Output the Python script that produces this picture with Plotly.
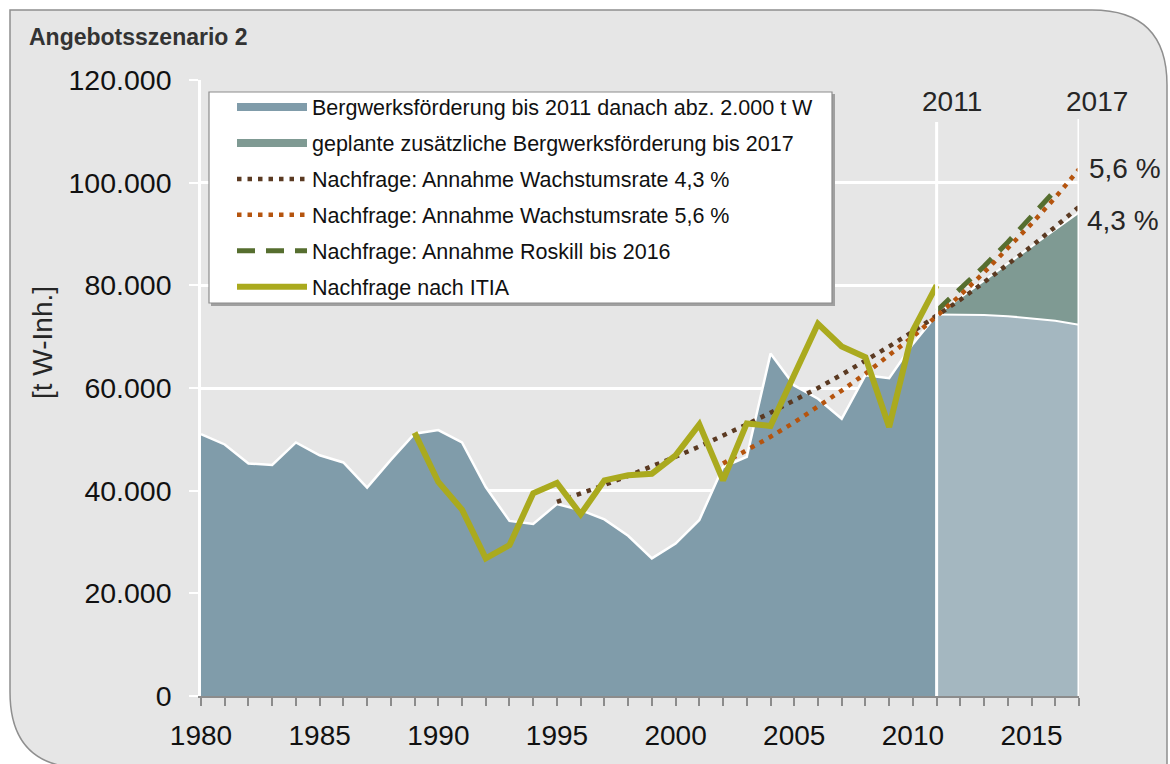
import plotly.graph_objects as go

# ---------------- data ----------------
years_hist = list(range(1980, 2012))
mine_hist = [51000, 49000, 45300, 45000, 49400, 46900, 45500, 40600, 46000, 51100,
             51800, 49400, 40700, 34100, 33500, 37400, 36200, 34400, 31200, 26800,
             29700, 34300, 44600, 46600, 66700, 60500, 57900, 54000, 62500, 61900,
             68600, 74300]

years_fut = list(range(2011, 2018))
mine_fut_base = [74300, 74300, 74200, 74000, 73600, 73100, 72300]
mine_fut_add = [0, 3300, 6700, 10200, 14000, 17800, 21900]

years_g43 = list(range(1995, 2018))
demand_43 = [37800, 39400, 41100, 42900, 44700, 46600, 48600, 50700, 52900, 55200,
             57500, 60000, 62600, 65300, 68100, 71000, 74000, 77200, 80600, 84000,
             87600, 91400, 95300]

years_g56 = list(range(2002, 2018))
demand_56 = [45300, 47800, 50500, 53300, 56300, 59500, 62800, 66300, 70000, 74000,
             78100, 82500, 87100, 92000, 97100, 102600]

years_roskill = list(range(2011, 2017))
demand_roskill = [75000, 79300, 83700, 88400, 93300, 98500]

years_itia = list(range(1989, 2012))
demand_itia = [51300, 41700, 36300, 26800, 29400, 39500, 41500, 35400, 42000, 43000,
               43300, 46900, 52900, 42000, 53100, 52600, 62600, 72500, 68100, 66000,
               52400, 71200, 80000]

legend_names = ["Bergwerksförderung bis 2011 danach abz. 2.000 t W",
                "geplante zusätzliche Bergwerksförderung bis 2017",
                "Nachfrage: Annahme Wachstumsrate 4,3 %",
                "Nachfrage: Annahme Wachstumsrate 5,6 %",
                "Nachfrage: Annahme Roskill bis 2016",
                "Nachfrage nach ITIA"]

# ---------------- layout geometry ----------------
W, H = 1170, 764
ML, MR, MT, MB = 201, 91, 80, 68
PW, PH = W - ML - MR, H - MT - MB


def px(x):
    return (x - ML) / PW


def py(y):
    return (H - MB - y) / PH


C_MINE = "#809caa"
C_MINE_FUT = "#a4b7c0"
C_ADD = "#7f9a93"
C_43 = "#5b3a22"
C_56 = "#b5540e"
C_ROS = "#566e2f"
C_ITIA = "#aaaa1e"
FONT = "Liberation Sans, Arial, sans-serif"

fig = go.Figure()

# areas
fig.add_trace(go.Scatter(x=years_hist, y=mine_hist, mode="lines", fill="tozeroy",
                         fillcolor=C_MINE, line=dict(color="white", width=2.5),
                         showlegend=False, hoverinfo="skip"))
fig.add_trace(go.Scatter(x=years_fut, y=mine_fut_base, mode="lines", stackgroup="fut",
                         fillcolor=C_MINE_FUT, line=dict(color="white", width=2),
                         showlegend=False, hoverinfo="skip"))
fig.add_trace(go.Scatter(x=years_fut, y=mine_fut_add, mode="lines", stackgroup="fut",
                         fillcolor=C_ADD, line=dict(color="white", width=2),
                         showlegend=False, hoverinfo="skip"))

# demand lines
fig.add_trace(go.Scatter(x=years_roskill, y=demand_roskill, mode="lines",
                         line=dict(color=C_ROS, width=5, dash="18px,11px"),
                         name=legend_names[4], legendgroup="g5", legendrank=5))
fig.add_trace(go.Scatter(x=years_g43, y=demand_43, mode="lines",
                         line=dict(color=C_43, width=4.5, dash="4.5px,6px"),
                         name=legend_names[2], legendgroup="g3", legendrank=3))
fig.add_trace(go.Scatter(x=years_g56, y=demand_56, mode="lines",
                         line=dict(color=C_56, width=4.5, dash="4.5px,6px"),
                         name=legend_names[3], legendgroup="g4", legendrank=4))
fig.add_trace(go.Scatter(x=years_itia, y=demand_itia, mode="lines",
                         line=dict(color=C_ITIA, width=6),
                         name=legend_names[5], legendgroup="g6", legendrank=6))

# legend entries for the areas
fig.add_trace(go.Scatter(x=[None], y=[None], mode="lines",
                         line=dict(color=C_MINE, width=8),
                         name=legend_names[0], legendgroup="g1", legendrank=1))
fig.add_trace(go.Scatter(x=[None], y=[None], mode="lines",
                         line=dict(color=C_ADD, width=8),
                         name=legend_names[1], legendgroup="g2", legendrank=2))

shapes = []
# background panel with rounded corners
path = (f"M {px(10)},{py(10)} L {px(1092)},{py(10)} "
        f"Q {px(1167)},{py(10)} {px(1167)},{py(85)} "
        f"L {px(1167)},{py(768)} L {px(85)},{py(768)} "
        f"Q {px(10)},{py(768)} {px(10)},{py(692)} Z")
shapes.append(dict(type="path", path=path, xref="paper", yref="paper",
                   fillcolor="#e6e6e6", line=dict(color="#8f8f8f", width=1.5),
                   layer="below"))
# vertical markers at 2011 and 2017
for yr, top in [(2011, 122), (2017, 119)]:
    shapes.append(dict(type="line", xref="x", yref="paper", x0=yr, x1=yr,
                       y0=0, y1=py(top), line=dict(color="white", width=3),
                       layer="above"))
# legend box with shadow
shapes.append(dict(type="rect", xref="paper", yref="paper",
                   x0=px(211), x1=px(835), y0=py(94), y1=py(306),
                   fillcolor="#a0a0a0", line=dict(width=0), layer="above"))
shapes.append(dict(type="rect", xref="paper", yref="paper",
                   x0=px(209), x1=px(832), y0=py(92), y1=py(303),
                   fillcolor="white", line=dict(color="#8c8c8c", width=1.2),
                   layer="above"))

annotations = [
    dict(text="<b>Angebotsszenario 2</b>", x=px(27), y=py(37), xref="paper", yref="paper",
         xanchor="left", yanchor="middle", showarrow=False,
         font=dict(size=23, color="#333333", family=FONT)),
    dict(text="[t W-Inh.]", x=px(42), y=py(343), xref="paper", yref="paper",
         xanchor="center", yanchor="middle", textangle=-90, showarrow=False,
         font=dict(size=28, color="#262626", family=FONT)),
    dict(text="2011", x=px(952), y=py(102), xref="paper", yref="paper",
         xanchor="center", yanchor="middle", showarrow=False,
         font=dict(size=28, color="#262626", family=FONT)),
    dict(text="2017", x=px(1097), y=py(102), xref="paper", yref="paper",
         xanchor="center", yanchor="middle", showarrow=False,
         font=dict(size=28, color="#262626", family=FONT)),
    dict(text="5,6 %", x=px(1087), y=py(168), xref="paper", yref="paper",
         xanchor="left", yanchor="middle", showarrow=False,
         font=dict(size=28, color="#262626", family=FONT)),
    dict(text="4,3 %", x=px(1085), y=py(220), xref="paper", yref="paper",
         xanchor="left", yanchor="middle", showarrow=False,
         font=dict(size=28, color="#262626", family=FONT)),
]

fig.update_layout(
    width=W, height=H,
    margin=dict(l=ML, r=MR, t=MT, b=MB, autoexpand=False),
    paper_bgcolor="white", plot_bgcolor="rgba(0,0,0,0)",
    separators=",.",
    font=dict(family=FONT, color="#111111"),
    shapes=shapes, annotations=annotations,
    legend=dict(x=px(232), y=py(86.5), xanchor="left", yanchor="top",
                bgcolor="rgba(0,0,0,0)", borderwidth=0,
                font=dict(size=21.5, color="#111111", family=FONT),
                itemwidth=70, traceorder="grouped", tracegroupgap=5),
    xaxis=dict(range=[1980, 2017], tickmode="linear", tick0=1980, dtick=5,
               showgrid=False, zeroline=False,
               showline=True, linecolor="#8c8c8c", linewidth=2,
               ticks="outside", ticklen=8, tickwidth=2, tickcolor="#8c8c8c",
               minor=dict(dtick=1, tick0=1980, ticks="outside", ticklen=8,
                          tickwidth=2, tickcolor="#8c8c8c", showgrid=False),
               tickfont=dict(size=28, color="#111111", family=FONT),
               ticklabelstandoff=5),
    yaxis=dict(range=[0, 120000], tickmode="linear", tick0=0, dtick=20000,
               tickformat=",d", showgrid=True, gridcolor="white", gridwidth=2.5,
               zeroline=False, showline=True, linecolor="white", linewidth=2.5,
               ticks="outside", ticklen=9, tickwidth=2, tickcolor="white",
               tickfont=dict(size=28.5, color="#111111", family=FONT),
               ticklabelstandoff=12),
)

fig.write_html("out.html",
               config={"displayModeBar": False},
               post_script="document.body.style.margin='0';"
                           "document.body.style.overflow='hidden';")
